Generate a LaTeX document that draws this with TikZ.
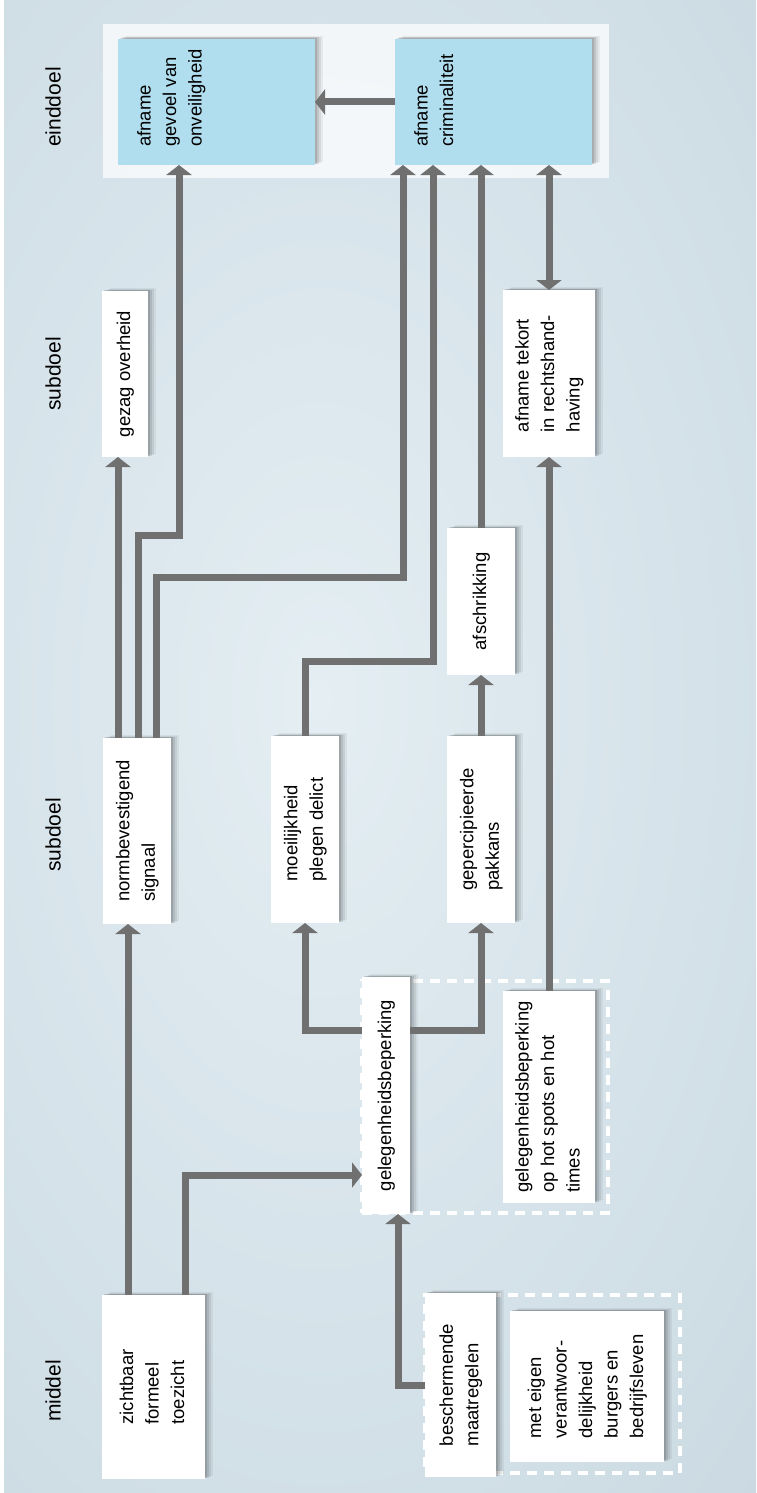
\documentclass[tikz,border=0pt]{standalone}
\usepackage{fontspec}
\setmainfont{Liberation Sans}
\usetikzlibrary{arrows.meta,shadows}
\definecolor{bgc}{HTML}{C6D6DF}
\definecolor{bgl}{HTML}{E4EEF3}
\definecolor{arr}{HTML}{707070}
\definecolor{bluebox}{HTML}{B1DEEE}
\newcommand{\rtxt}[1]{\rotatebox{90}{\begin{tabular}{@{}l@{}}#1\end{tabular}}}
\begin{document}
\begin{tikzpicture}[x=1pt,y=-1pt,
  box/.style={fill=white, inner sep=0pt, outer sep=0pt,
     font=\fontsize{18.5}{25.5}\selectfont,
     general shadow={shadow xshift=8pt, shadow yshift=3pt, fill=black, opacity=.05},
     general shadow={shadow xshift=6pt, shadow yshift=2pt, fill=black, opacity=.07},
     general shadow={shadow xshift=4pt, shadow yshift=1.5pt, fill=black, opacity=.09},
     general shadow={shadow xshift=2pt, shadow yshift=1pt, fill=black, opacity=.12}},
  goal/.style={box, fill=bluebox},
  lbl/.style={rotate=90, font=\fontsize{21}{25}\selectfont, inner sep=0pt},
  gtxt/.style={rotate=90, anchor=north west, inner sep=0pt, align=left,
     font=\fontsize{18.5}{25.5}\selectfont},
  conn/.style={draw=arr, line width=7pt, -{Triangle[width=25pt,length=10pt]}},
  both/.style={draw=arr, line width=7pt,
     {Triangle[width=25pt,length=10pt]}-{Triangle[width=25pt,length=10pt]}},
  dashbox/.style={draw=white, line width=4pt, dash pattern=on 10pt off 7pt,
     inner sep=0pt, outer sep=0pt},
]
\useasboundingbox (0,0) rectangle (756,1493);
\fill[white] (0,0) rectangle (756,1493);
\begin{scope}
\clip (4,1) rectangle (756,1493);
\fill[bgc] (4,1) rectangle (756,1493);
\shade[inner color=bgl, outer color=bgc] (320,700) ellipse (760pt and 1300pt);
\end{scope}

% column labels
\node[lbl] (l1) at (53,107) {einddoel};
\node[lbl] (l2) at (53,374) {subdoel};
\node[lbl] (l3) at (53,835) {subdoel};
\node[lbl] (l4) at (53,1391) {middel};

% end goal panel
\node[fill=white, fill opacity=.72, inner sep=0pt, minimum width=506pt, minimum height=154pt] (panel) at (356,101) {};

% dashed groups
\node[dashbox, minimum width=246pt, minimum height=232pt] (grp1) at (485,1097) {};
\node[dashbox, minimum width=255pt, minimum height=178pt] (grp2) at (552.5,1384) {};

% goal boxes
\node[goal, minimum width=197pt, minimum height=126pt] (ongev) at (216.5,102) {};
\node[goal, minimum width=197pt, minimum height=126pt] (crim) at (493.5,102) {};
\node[gtxt] (ongevT) at ([xshift=19pt,yshift=18pt]ongev.south west) {afname\\gevoel van\\onveiligheid};
\node[gtxt] (crimT) at ([xshift=19pt,yshift=18pt]crim.south west) {afname\\criminaliteit};

% sub goals
\node[box, minimum width=46pt, minimum height=166pt] (gezag) at (125,374) {\rtxt{gezag overheid}};
\node[box, minimum width=92pt, minimum height=167pt] (tekort) at (549,373.5) {\rtxt{afname tekort\\in rechtshand-\\having}};
\node[box, minimum width=68pt, minimum height=147pt] (afschr) at (481,601.5) {\rtxt{afschrikking}};
\node[box, minimum width=68pt, minimum height=186pt] (norm) at (137,831) {\rtxt{normbevestigend\\signaal}};
\node[box, minimum width=68pt, minimum height=187pt] (moeil) at (305,829.5) {\rtxt{moeilijkheid\\plegen delict}};
\node[box, minimum width=68pt, minimum height=187pt] (pakkans) at (481,829.5) {\rtxt{gepercipieerde\\pakkans}};

% means
\node[box, minimum width=48pt, minimum height=237pt] (geleg) at (386,1095.5) {\rtxt{gelegenheidsbeperking}};
\node[box, minimum width=92pt, minimum height=212pt] (hotspots) at (549,1097) {\rtxt{gelegenheidsbeperking\\op hot spots en hot\\times}};
\node[box, minimum width=103pt, minimum height=184pt] (zicht) at (153.5,1387) {\rtxt{zichtbaar\\formeel\\toezicht}};
\node[box, minimum width=71pt, minimum height=184pt] (bescherm) at (460.5,1385) {\rtxt{beschermende\\maatregelen}};
\node[box, minimum width=154pt, minimum height=151pt] (eigen) at (587,1386.5) {\rtxt{met eigen\\verantwoor-\\delijkheid\\burgers en\\bedrijfsleven}};

% helper coordinates
\coordinate (c1) at (128,0);
\coordinate (c2) at (185,0);
\coordinate (r2) at (0,1175);
\coordinate (c3) at (398,0);
\coordinate (r4) at (0,1030);
\coordinate (c10) at (118,0);
\coordinate (c11) at (138,0);
\coordinate (k11) at (179,535);
\coordinate (c12) at (156,0);
\coordinate (k12) at (403,577);
\coordinate (k13) at (433,661);

% connectors
\draw[conn] (c1 |- zicht.north) -- (c1 |- norm.south);
\draw[conn] (c2 |- zicht.north) |- (geleg.west |- r2);
\draw[conn] (bescherm.west) -| (c3 |- geleg.south);
\draw[conn] (geleg.west |- r4) -| (moeil.south);
\draw[conn] (geleg.east |- r4) -| (pakkans.south);
\draw[conn] (pakkans.north) -- (afschr.south);
\draw[conn] (afschr.north) -- (afschr.north |- crim.south);
\draw[conn] (hotspots.north) -- (tekort.south);
\draw[both] (tekort.north) -- (tekort.north |- crim.south);
\draw[conn] (c10 |- norm.north) -- (c10 |- gezag.south);
\draw[conn] (c11 |- norm.north) |- (k11) -- (k11 |- ongev.south);
\draw[conn] (c12 |- norm.north) |- (k12) -- (k12 |- crim.south);
\draw[conn] (moeil.north) |- (k13) -- (k13 |- crim.south);
\draw[conn] (crim.west) -- (ongev.east);
\end{tikzpicture}
\end{document}
